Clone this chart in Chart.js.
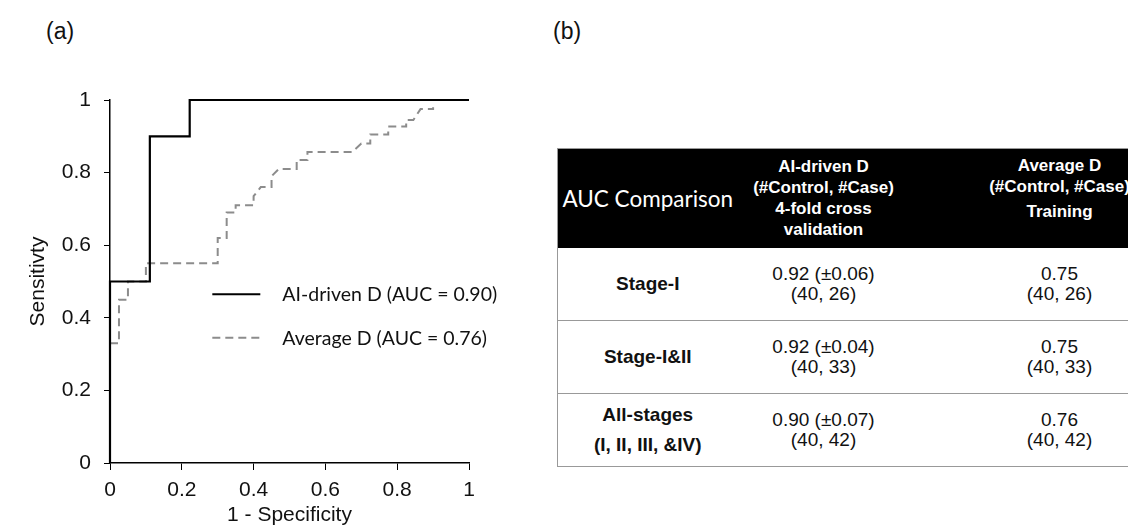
<!DOCTYPE html>
<html>
<head>
<meta charset="utf-8">
<script src="https://cdn.jsdelivr.net/npm/chart.js@4.4.0/dist/chart.umd.min.js"></script>
<style>
  body { margin: 0; width: 1128px; height: 529px; background: #fff; overflow: hidden; position: relative; font-family: "Liberation Sans", Arial, sans-serif; }
  .tag { position: absolute; top: 18px; font-size: 23px; color: #111; }
  #wrap { position: absolute; left: 0; top: 0; width: 540px; height: 529px; }
  table { position: absolute; left: 557px; top: 148px; width: 652px; table-layout: fixed; border-collapse: collapse; white-space: nowrap; }
  th, td { box-sizing: border-box; }
  th { background: #000; color: #fff; font-weight: bold; font-size: 17px; line-height: 21px; height: 99px; padding: 0; text-align: center; border-top: 1.5px solid #999; }
  th.first { font-family: Lato, "Open Sans", sans-serif; font-weight: normal; font-size: 22.5px; border-left: 1.5px solid #999; }
  th.top { vertical-align: top; padding-top: 6px; }
  th.top span { display: block; margin-top: 4px; }
  td { border-bottom: 1.5px solid #999; font-size: 19px; line-height: 20px; text-align: center; height: 73px; padding: 0; color: #111; }
  td.lab { font-weight: bold; line-height: 30px; border-left: 1.5px solid #999; }
</style>
</head>
<body>
<div class="tag" style="left:46px">(a)</div>
<div class="tag" style="left:553px">(b)</div>
<div id="wrap"><canvas id="roc" width="540" height="529"></canvas></div>
<table id="tabla"></table>
<script>
// curva AI-driven D (esquinas de la escalera)
const aiX = [0, 0, 0.111, 0.111, 0.222, 0.222, 1];
const aiY = [0, 0.5, 0.5, 0.9, 0.9, 1, 1];

// curva Average D
const avgX = [0, 0.025, 0.025, 0.05, 0.05, 0.1, 0.1, 0.3, 0.3, 0.325, 0.325, 0.35, 0.35, 0.4, 0.4, 0.42, 0.45, 0.45, 0.47, 0.52, 0.52, 0.55, 0.55, 0.675, 0.7, 0.725, 0.725, 0.775, 0.775, 0.825, 0.825, 0.845, 0.865, 0.9, 0.9];
const avgY = [0.33, 0.33, 0.45, 0.45, 0.5, 0.5, 0.55, 0.55, 0.62, 0.62, 0.69, 0.69, 0.71, 0.71, 0.735, 0.76, 0.76, 0.79, 0.81, 0.81, 0.835, 0.835, 0.857, 0.857, 0.88, 0.88, 0.905, 0.905, 0.927, 0.927, 0.945, 0.945, 0.975, 0.975, 0.98];

const etiquetas = ["AI-driven D (AUC = 0.90)", "Average D (AUC = 0.76)"];

// tabla (b)
const cabecera = ["AUC Comparison", ["AI-driven D", "(#Control, #Case)", "4-fold cross", "validation"], ["Average D", "(#Control, #Case)", "Training"]];
const etapas = [["Stage-I"], ["Stage-I&II"], ["All-stages", "(I, II, III, &IV)"]];
const aucAI = ["0.92 (±0.06)", "0.92 (±0.04)", "0.90 (±0.07)"];
const aucAvg = ["0.75", "0.75", "0.76"];
const muestras = ["(40, 26)", "(40, 33)", "(40, 42)"];

const pares = (xs, ys) => xs.map((x, i) => ({ x: x, y: ys[i] }));

// leyenda dentro del area del grafico
const leyendaInterna = {
  id: "leyendaInterna",
  afterDraw(chart) {
    const ctx = chart.ctx;
    const xs = chart.scales.x, ys = chart.scales.y;
    const x0 = xs.getPixelForValue(0.285);
    const filas = [ys.getPixelForValue(0.465), ys.getPixelForValue(0.345)];
    ctx.save();
    chart.data.datasets.forEach((ds, i) => {
      ctx.beginPath();
      ctx.strokeStyle = ds.borderColor;
      ctx.lineWidth = 2;
      ctx.setLineDash(ds.borderDash || []);
      ctx.moveTo(x0, filas[i]);
      ctx.lineTo(x0 + 48, filas[i]);
      ctx.stroke();
      ctx.setLineDash([]);
      ctx.fillStyle = "#111";
      ctx.font = "19.5px Lato, 'Open Sans', sans-serif";
      ctx.textBaseline = "middle";
      ctx.fillText(ds.label, x0 + 70, filas[i] + 1);
    });
    ctx.restore();
  }
};

const fmt = (v) => String(+Number(v).toFixed(1));

new Chart(document.getElementById("roc"), {
  type: "scatter",
  data: {
    datasets: [
      { label: etiquetas[0], data: pares(aiX, aiY), showLine: true, borderColor: "#000", borderWidth: 2.2, pointRadius: 0, fill: false, clip: 6 },
      { label: etiquetas[1], data: pares(avgX, avgY), showLine: true, borderColor: "#8c8c8c", borderWidth: 2, borderDash: [8, 5], pointRadius: 0, fill: false, clip: 6 }
    ]
  },
  options: {
    responsive: false,
    animation: false,
    layout: { padding: { left: 0, top: 100, right: 71, bottom: 0 } },
    plugins: { legend: { display: false }, tooltip: { enabled: false } },
    scales: {
      x: {
        type: "linear", min: 0, max: 1,
        ticks: { stepSize: 0.2, color: "#111", font: { size: 21, family: "Liberation Sans" }, padding: 8, callback: fmt },
        grid: { drawOnChartArea: false, drawTicks: true, tickLength: 7, tickColor: "#000" },
        border: { color: "#000", width: 1.5 },
        title: { display: true, text: "1 - Specificity", color: "#111", font: { size: 21, family: "Liberation Sans" }, padding: { top: 0, bottom: 1 } },
        afterFit: (s) => { s.height = 66; }
      },
      y: {
        type: "linear", min: 0, max: 1,
        ticks: { stepSize: 0.2, color: "#111", font: { size: 21, family: "Liberation Sans" }, padding: 13, callback: fmt },
        grid: { drawOnChartArea: false, drawTicks: true, tickLength: 6, tickColor: "#000" },
        border: { color: "#000", width: 1.5 },
        title: { display: true, text: "Sensitivty", color: "#111", font: { size: 21, family: "Liberation Sans" }, padding: { top: 26, bottom: 0 } },
        afterFit: (s) => { s.width = 110; }
      }
    }
  },
  plugins: [leyendaInterna]
});

// construir tabla
const tabla = document.getElementById("tabla");
let html = "<colgroup><col style='width:180px'><col style='width:172px'><col style='width:300px'></colgroup><tr>";
html += '<th class="first">' + cabecera[0] + "</th>";
html += "<th>" + cabecera[1].join("<br>") + "</th>";
html += '<th class="top">' + cabecera[2].slice(0, 2).join("<br>") + "<span>" + cabecera[2][2] + "</span></th>";
html += "</tr>";
etapas.forEach((e, i) => {
  html += '<tr><td class="lab">' + e.join("<br>") + "</td>";
  html += "<td>" + aucAI[i] + "<br>" + muestras[i] + "</td>";
  html += "<td>" + aucAvg[i] + "<br>" + muestras[i] + "</td></tr>";
});
tabla.innerHTML = html;
</script>
</body>
</html>
